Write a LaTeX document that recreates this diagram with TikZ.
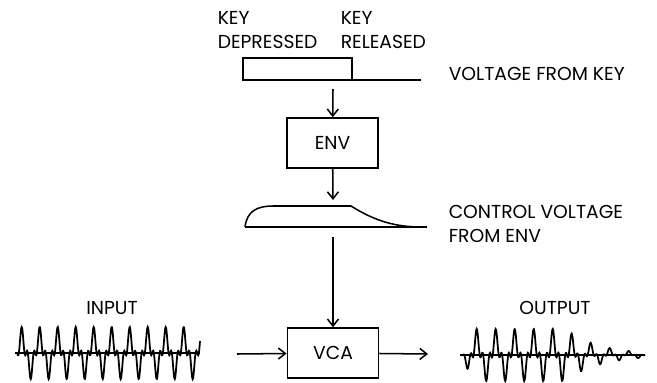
\documentclass[tikz,border=0pt]{standalone}
\usepackage{fontspec}
\setmainfont{Poppins}
\usepackage{tikz}
\usetikzlibrary{arrows.meta,positioning,calc}

\begin{document}
\begin{tikzpicture}[x=0.3mm,y=-0.3mm,line width=1.3pt,
   >={Straight Barb[length=2.1mm,width=3.3mm]},
   font=\fontsize{16}{20.5}\selectfont,
   blk/.style={draw,minimum width=27.4mm,minimum height=15mm,inner sep=0pt},
   lbl/.style={inner sep=0pt,align=left,anchor=west}]
  \useasboundingbox (0,0) rectangle (657,382);
  % voltage from key
  \draw (243,80) rectangle (352,58);
  \draw (352,80)--(421,80);
  \coordinate (key) at (333,89);
  \node[lbl] (kd) at (217,30) {KEY\\DEPRESSED};
  \node[lbl] (kr) at (340,30) {KEY\\RELEASED};
  \node[lbl] (vk) at (448,74) {VOLTAGE FROM KEY};
  % envelope
  \node[blk] (env) at (332.5,143) {ENV};
  \coordinate (envtop) at (333,200);
  \coordinate (envbot) at (333,237);
  \draw (245,227) .. controls (247,211) and (257,206) .. (273,206) -- (351,206)
        .. controls (375,221) and (395,227) .. (422,227);
  \draw (245,227)--(427,227);
  \node[lbl] (cv) at (448,224) {CONTROL VOLTAGE\\FROM ENV};
  % vca
  \node[blk] (vca) at (333,353) {VCA};
  \coordinate (inp) at (237,354);
  \coordinate (outp) at (428,354);
  \draw[->] (key)--(env);
  \draw[->] (env)--(envtop);
  \draw[->] (envbot)--(vca);
  \draw[->] (inp)--(vca);
  \draw[->] (vca)--(outp);
  % signals
  \node (in) at (112,308) {INPUT};
  \node (out) at (555,308) {OUTPUT};
  \draw (15,353)--(200,353);
  \draw[line width=1.5pt] plot[domain=17:200,samples=400,smooth]
     (\x,{353-16.8*(cos(20*(\x-21.7))+0.55*cos(60*(\x-21.7)))});
  \draw (460,355)--(645,355);
  \draw[line width=1.5pt] plot[domain=461:645,samples=400,smooth]
     (\x,{355-16.8*min(1,(\x-460)/14)*min(1,exp(-(\x-565)/34))*(cos(18.95*(\x-476.7))+0.55*cos(56.85*(\x-476.7)))});
\end{tikzpicture}
\end{document}
